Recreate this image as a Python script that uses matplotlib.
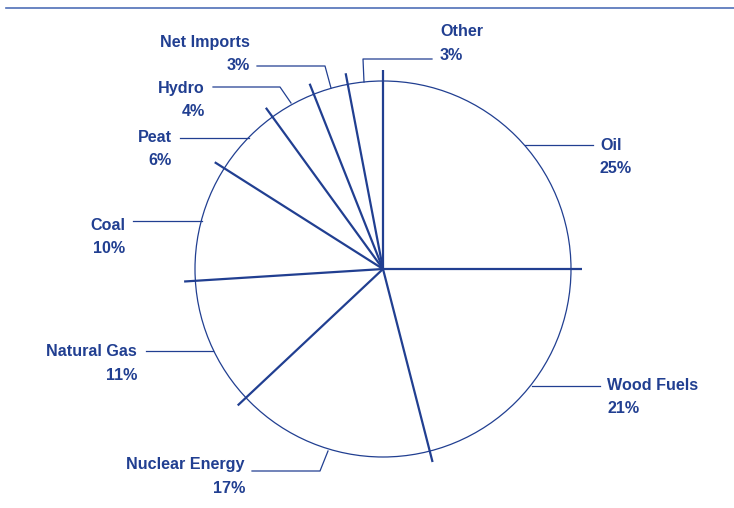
import numpy as np
import matplotlib.pyplot as plt

# data: share of total energy supply, clockwise from top
sources = ['Oil', 'Wood Fuels', 'Nuclear Energy', 'Natural Gas', 'Coal',
           'Peat', 'Hydro', 'Net Imports', 'Other']
shares = [25, 21, 17, 11, 10, 6, 4, 3, 3]

blue = '#213f91'
W, H = 734, 508

# label layout in pixel coords (x, y from top): text anchor, alignment, leader path
label_layout = {
    'Oil':            (600, 145, 'left',  [(525, 145), (593, 145)]),
    'Wood Fuels':     (607, 385, 'left',  [(532, 386), (600, 386)]),
    'Nuclear Energy': (245, 465, 'right', [(328, 451), (320, 471), (252, 471)]),
    'Natural Gas':    (137, 352, 'right', [(213, 351), (146, 351)]),
    'Coal':           (125, 225, 'right', [(202, 221), (133, 221)]),
    'Peat':           (172, 137, 'right', [(249, 138), (180, 138)]),
    'Hydro':          (205, 88,  'right', [(291, 103), (280, 87), (213, 87)]),
    'Net Imports':    (250, 42,  'right', [(331, 88), (325, 66), (257, 66)]),
    'Other':          (440, 32,  'left',  [(364, 82), (363, 59), (432, 59)]),
}

plt.rcParams['font.family'] = ['Liberation Sans', 'DejaVu Sans']

fig = plt.figure(figsize=(W / 100, H / 100), dpi=100)
ax = fig.add_axes([0, 0, 1, 1])

cx, cy, r = 383, H - 269, 188
wedges, _ = ax.pie(shares, startangle=90, counterclock=False, center=(cx, cy), radius=r,
                   wedgeprops=dict(facecolor='white', edgecolor='none', linewidth=0))

# outline circle
ax.add_patch(plt.Circle((cx, cy), r, fill=False, ec=blue, lw=0.9, zorder=3))

# radial dividers, slightly longer than the radius
for w in wedges:
    th = np.deg2rad(w.theta1)
    ax.plot([cx, cx + 1.06 * r * np.cos(th)], [cy, cy + 1.06 * r * np.sin(th)],
            c=blue, lw=1.6, solid_capstyle='butt', zorder=4)

# labels and leader lines
for name, val in zip(sources, shares):
    x, y, ha, path = label_layout[name]
    px = [p[0] for p in path]
    py = [H - p[1] for p in path]
    ax.plot(px, py, c=blue, lw=0.9, zorder=3)
    ax.text(x, H - y, name, ha=ha, va='center', fontsize=11.6, fontweight='bold', color=blue)
    ax.text(x, H - y - 23.5, '{}%'.format(val), ha=ha, va='center', fontsize=11.6,
            fontweight='bold', color=blue)

# top rule
ax.plot([6, W], [H - 8, H - 8], c='#4f6fb8', lw=1.2)

ax.set_xlim(0, W)
ax.set_ylim(0, H)
ax.set_aspect('equal')
ax.axis('off')

plt.savefig('out.png', dpi=100)
